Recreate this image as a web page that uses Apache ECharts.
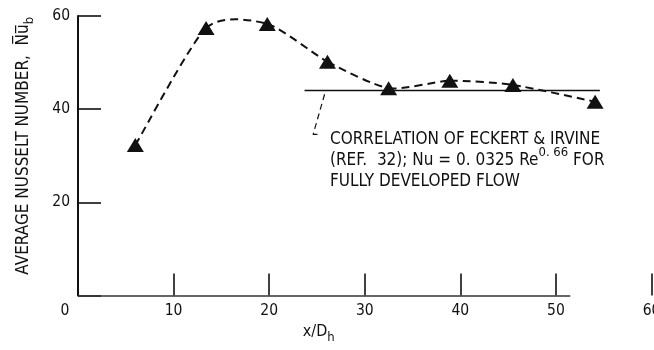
<!DOCTYPE html>
<html>
<head>
<meta charset="utf-8">
<script src="https://cdn.jsdelivr.net/npm/echarts@6/dist/echarts.min.js"></script>
<style>
html, body { margin: 0; padding: 0; background: #fff; }
#chart { width: 654px; height: 350px; }
</style>
</head>
<body>
<div id="chart"></div>
<script>
// Average Nusselt number along the duct, x/Dh
const xOverDh = [6, 13.4, 19.8, 26.1, 32.5, 38.9, 45.5, 54.1];
const nusseltAvg = [32.3, 57.4, 58.3, 50.2, 44.5, 46.1, 45.2, 41.6];

// Eckert & Irvine fully developed correlation, drawn as a flat reference level
const correlationX = [23.7, 54.6];
const correlationNu = [44, 44];

// Leader from the correlation line down to its note
const leaderX = [25.8, 24.6, 25.4];
const leaderNu = [43.2, 34.6, 34.6];

// Axis ticks
const xTickValues = [0, 10, 20, 30, 40, 50, 60];
const yTickValues = [0, 20, 40, 60];
const xAxisLineEnd = 51.5;

const FONT = "'DejaVu Sans Condensed', 'Liberation Sans Narrow', 'DejaVu Sans', sans-serif";
const INK = '#111';
const TENSION = 0.115;

const pairs = (xs, ys) => xs.map((x, i) => [x, ys[i]]);

// Faired curve through the measured points: Catmull-Rom segments as cubic Beziers,
// each point placed through the grid's own coordinate system.
function renderFairedCurve(params, api) {
  const pts = xOverDh.map((x, i) => api.coord([x, nusseltAvg[i]]));
  const n = pts.length;
  const children = [];
  for (let i = 0; i < n - 1; i++) {
    const p0 = pts[Math.max(i - 1, 0)];
    const p1 = pts[i];
    const p2 = pts[i + 1];
    const p3 = pts[Math.min(i + 2, n - 1)];
    children.push({
      type: 'bezierCurve',
      shape: {
        x1: p1[0], y1: p1[1],
        cpx1: p1[0] + (p2[0] - p0[0]) * TENSION,
        cpy1: p1[1] + (p2[1] - p0[1]) * TENSION,
        cpx2: p2[0] - (p3[0] - p1[0]) * TENSION,
        cpy2: p2[1] - (p3[1] - p1[1]) * TENSION,
        x2: p2[0], y2: p2[1]
      },
      style: { stroke: INK, lineWidth: 2, lineDash: [8, 5], fill: null }
    });
  }
  return { type: 'group', children };
}

const chart = echarts.init(document.getElementById('chart'), null, { renderer: 'canvas' });

chart.setOption({
  backgroundColor: '#fff',
  animation: false,
  grid: {
    left: 78, right: 2.5, top: 16, bottom: 54.5,
    containLabel: false,
    outerBoundsMode: 'none'
  },
  xAxis: {
    type: 'value',
    min: xTickValues[0],
    max: xTickValues[xTickValues.length - 1],
    interval: 10,
    axisLine: { show: false },
    axisTick: { show: true, inside: true, length: 22, lineStyle: { color: INK, width: 1.6 } },
    splitLine: { show: false },
    axisLabel: {
      color: INK, fontFamily: FONT, fontSize: 15.5, margin: 7,
      formatter: v => (v === 0 ? '{z|0}' : String(v)),
      rich: { z: { fontFamily: FONT, fontSize: 15.5, color: INK, padding: [0, 26, 0, 0] } }
    },
    name: '{m|x/D}{s|h}',
    nameLocation: 'middle',
    nameGap: 27,
    nameTextStyle: {
      padding: [0, 92, 0, 0],
      rich: {
        m: { fontFamily: FONT, fontSize: 16, color: INK, lineHeight: 18, verticalAlign: 'top' },
        s: { fontFamily: FONT, fontSize: 13, color: INK, lineHeight: 13, padding: [8, 0, 0, 0], verticalAlign: 'top' }
      }
    }
  },
  yAxis: {
    type: 'value',
    min: yTickValues[0],
    max: yTickValues[yTickValues.length - 1],
    interval: 20,
    axisLine: { show: true, lineStyle: { color: INK, width: 2 } },
    axisTick: { show: true, inside: true, length: 23, lineStyle: { color: INK, width: 1.6 } },
    splitLine: { show: false },
    axisLabel: {
      color: INK, fontFamily: FONT, fontSize: 15.5, margin: 8,
      formatter: v => (v === 0 ? '' : String(v))
    },
    name: '{m|AVERAGE NUSSELT NUMBER,  N\u0305u\u0305}{s|b}',
    nameLocation: 'middle',
    nameRotate: 90,
    nameGap: 44,
    nameTextStyle: {
      padding: [0, 0, 0, 20],
      rich: {
        m: { fontFamily: FONT, fontSize: 17, color: INK, lineHeight: 19, verticalAlign: 'top' },
        s: { fontFamily: FONT, fontSize: 13, color: INK, lineHeight: 13, padding: [8, 0, 0, 0], verticalAlign: 'top' }
      }
    }
  },
  series: [
    {
      name: 'Faired curve',
      type: 'custom',
      renderItem: renderFairedCurve,
      data: [0],
      silent: true,
      z: 2
    },
    {
      name: 'Measured',
      type: 'scatter',
      data: pairs(xOverDh, nusseltAvg),
      symbol: 'triangle',
      symbolSize: [17, 14],
      itemStyle: { color: INK, opacity: 1 },
      z: 4
    },
    {
      name: 'Correlation',
      type: 'line',
      data: pairs(correlationX, correlationNu),
      symbol: 'none',
      lineStyle: { color: INK, width: 1.5 },
      z: 3
    },
    {
      name: 'Leader',
      type: 'line',
      data: pairs(leaderX, leaderNu),
      symbol: 'none',
      lineStyle: { color: INK, width: 1.2, type: [6, 4] },
      z: 2
    },
    {
      name: 'Baseline',
      type: 'line',
      data: [],
      markLine: {
        silent: true,
        symbol: 'none',
        label: { show: false },
        lineStyle: { color: '#333', width: 1.6, type: 'solid' },
        data: [[{ coord: [0, 0] }, { coord: [xAxisLineEnd, 0] }]]
      }
    }
  ],
  graphic: [
    {
      type: 'text',
      left: 330,
      top: 131,
      style: {
        text: '{m|CORRELATION OF ECKERT & IRVINE}\n{m|(REF.  32); Nu = 0. 0325 Re}{p|0. 66}{m| FOR}\n{m|FULLY DEVELOPED FLOW}',
        rich: {
          m: { fontFamily: FONT, fontSize: 17, fill: INK, lineHeight: 21, verticalAlign: 'bottom' },
          p: { fontFamily: FONT, fontSize: 13, fill: INK, lineHeight: 13, padding: [0, 0, 12, 0] }
        }
      }
    }
  ]
});
</script>
</body>
</html>
